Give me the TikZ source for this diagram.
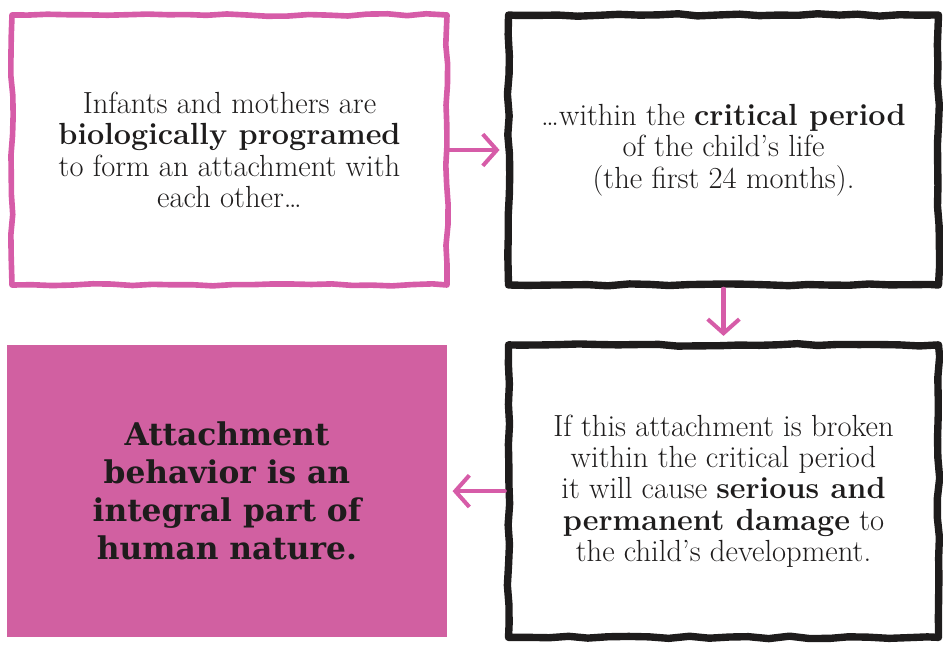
\documentclass[tikz,border=0pt]{standalone}
\usepackage{fontspec}
\usepackage{tikz}
\usetikzlibrary{positioning, arrows.meta, decorations.pathmorphing}

\newfontfamily\slabfont{DejaVu Serif}
\definecolor{sketchpink}{RGB}{214,92,168}
\definecolor{boxpink}{RGB}{209,96,161}
\definecolor{inkblack}{RGB}{30,28,28}

\begin{document}
\begin{tikzpicture}[
        node distance=1.2cm,
        card/.style={rectangle, minimum width=8.7cm, minimum height=5.4cm, align=center,
            text=inkblack, font=\fontsize{17.4}{17.8}\selectfont, line width=3.2pt, line join=round,
            decorate, decoration={random steps, segment length=4mm, amplitude=0.7pt}},
        pinkcard/.style={card, draw=sketchpink},
        inkcard/.style={card, draw=inkblack, line width=4.2pt, minimum width=8.6cm},
        solidcard/.style={rectangle, fill=boxpink, minimum width=8.8cm, minimum height=5.85cm,
            align=center, text=inkblack, font=\slabfont\bfseries\fontsize{17.8}{21.6}\selectfont},
        arr/.style={draw=sketchpink, line width=2.3pt, line cap=round, shorten >=3pt,
            -{Straight Barb[length=8pt, width=18pt, line width=2.3pt]}},
    ]
        \pgfmathsetseed{7}
        \useasboundingbox (0,0) rectangle (18.86,-13.02);

        \node[pinkcard] (bio) at (4.59,-3.0) {Infants and mothers are\\\textbf{biologically programed}\\to form an attachment with\\each other\dots};
        \node[inkcard, right=1.1cm of bio] (period) {\dots within the \textbf{critical period}\\of the child's life\\(the first 24 months).};
        \node[inkcard, below=1.05cm of period, minimum height=5.85cm] (broken) {If this attachment is broken\\within the critical period\\it will cause \textbf{serious and}\\\textbf{permanent damage} to\\the child's development.};
        \node[solidcard, left=1.15cm of broken] (nature) {Attachment\\behavior is an\\integral part of\\human nature.};

        \draw[arr] (bio) -- (period);
        \draw[arr] (period) -- (broken);
        \draw[arr] (broken) -- (nature);
    \end{tikzpicture}
\end{document}
